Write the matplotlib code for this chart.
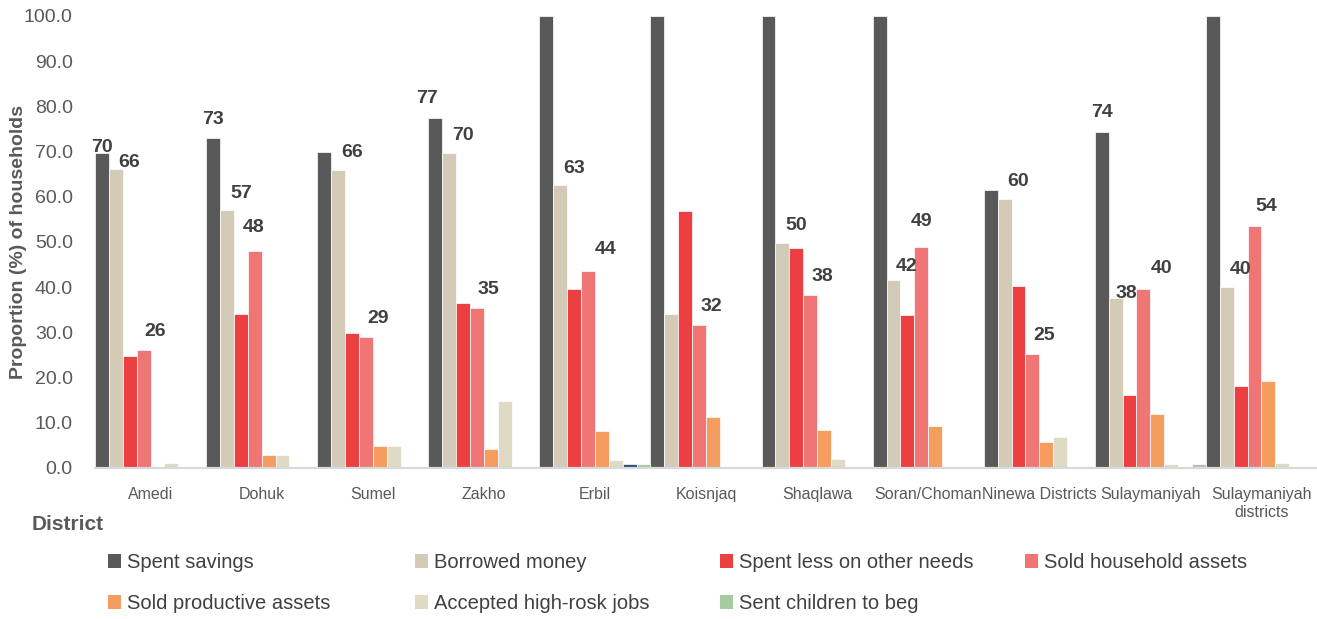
import numpy as np
import matplotlib.pyplot as plt
from matplotlib.patches import Patch

plt.rcParams['font.family'] = ['Liberation Sans', 'DejaVu Sans']

# coping strategies by district (% of households)
districts = ['Amedi', 'Dohuk', 'Sumel', 'Zakho', 'Erbil', 'Koisnjaq', 'Shaqlawa',
             'Soran/Choman', 'Ninewa Districts', 'Sulaymaniyah', 'Sulaymaniyah\ndistricts']

spent_savings   = [69.8, 73.0, 69.9, 77.4, 100, 100, 100, 100, 61.5, 74.4, 100]
borrowed_money  = [66.2, 57.0, 66.0, 69.8, 62.6, 34.0, 49.8, 41.6, 59.6, 37.7, 40.1]
spent_less      = [24.8, 34.0, 29.9, 36.4, 39.5, 56.9, 48.7, 33.8, 40.3, 16.2, 18.1]
sold_household  = [26.1, 48.0, 28.9, 35.3, 43.6, 31.6, 38.2, 48.9, 25.2, 39.7, 53.6]
sold_productive = [0, 2.9, 4.9, 4.1, 8.2, 11.2, 8.3, 9.3, 5.8, 12.0, 19.3]
high_risk_jobs  = [1.2, 2.9, 4.9, 14.8, 1.8, 0, 1.9, 0, 6.9, 0.8, 1.0]
other_strategy  = [0, 0, 0, 0, 0.9, 0, 0, 0, 0, 0, 0]
children_beg    = [0, 0, 0, 0, 0.9, 0, 0, 0, 0, 0.8, 0]

series = [
    ('Spent savings', spent_savings, '#595959'),
    ('Borrowed money', borrowed_money, '#D3CBB8'),
    ('Spent less on other needs', spent_less, '#EB3F42'),
    ('Sold household assets', sold_household, '#F07676'),
    ('Sold productive assets', sold_productive, '#F59C5F'),
    ('Accepted high-rosk jobs', high_risk_jobs, '#DFDAC5'),
    ('_other', other_strategy, '#2B4D76'),
    ('Sent children to beg', children_beg, '#A4CCA0'),
]

# (district index, series index) of bars carrying a value label
labelled = [(0, 0), (0, 1), (0, 3), (1, 0), (1, 1), (1, 3), (2, 1), (2, 3),
            (3, 0), (3, 1), (3, 3), (4, 1), (4, 3), (5, 3), (6, 1), (6, 3),
            (7, 1), (7, 3), (8, 1), (8, 3), (9, 0), (9, 1), (9, 3), (10, 1), (10, 3)]

# label offsets in pixels from the bar top
default_off = {0: (0, 19), 1: (14, 17), 3: (12, 19)}
nudge = {(0, 0): (0, 5), (3, 0): (-8, 20), (0, 1): (13, 6), (9, 1): (11, 4),
         (1, 3): (-1, 24), (7, 3): (0, 25), (7, 1): (13, 13), (4, 3): (18, 21),
         (9, 3): (18, 20)}

fig = plt.figure(figsize=(13.17, 6.19), dpi=100)
ax = fig.add_axes([95 / 1317, 1 - 468 / 619, 1 - 95 / 1317, (468 - 16) / 619])

x = np.arange(len(districts))
n = len(series)
w = 1.0 / n
for i, (name, vals, col) in enumerate(series):
    ax.bar(x - 0.5 + w * (i + 0.5), vals, width=w, color=col,
           edgecolor='white', linewidth=0.5, label=name)

for d, s in labelled:
    v = series[s][1][d]
    xc = d - 0.5 + w * (s + 0.5)
    dx, dy = nudge.get((d, s), default_off[s])
    ax.annotate(f'{v:.0f}', (xc, v), xytext=(dx, dy), textcoords='offset pixels',
                ha='center', va='center', fontsize=14, fontweight='bold',
                color='#404040')

ax.set_xlim(-0.5, len(districts) - 0.5)
ax.set_ylim(0, 100)
ax.set_yticks(np.arange(0, 101, 10))
ax.set_yticklabels([f'{t:.1f}' for t in np.arange(0, 101, 10)])
ax.set_xticks(x)
ax.set_xticklabels(districts)
ax.tick_params(axis='y', length=0, pad=16, labelsize=14, labelcolor='#595959')
ax.tick_params(axis='x', length=0, pad=14, labelsize=11.5, labelcolor='#595959')

for sp in ['top', 'right', 'left']:
    ax.spines[sp].set_visible(False)
ax.spines['bottom'].set_color('#D9D9D9')
ax.spines['bottom'].set_linewidth(1.6)

ax.set_ylabel('Proportion (%) of households', fontsize=14, fontweight='bold',
              color='#595959')
ax.yaxis.set_label_coords(-0.056, 0.5)

fig.text(32 / 1317, 1 - 525 / 619, 'District', fontsize=15, fontweight='bold',
         color='#595959', va='center', ha='left')

# legend laid out as four fixed columns
cols = [[0, 4], [1, 5], [2, 7], [3]]
col_x = [108, 415, 720, 1025]
for idxs, cx in zip(cols, col_x):
    handles = [Patch(facecolor=series[k][2], label=series[k][0]) for k in idxs]
    fig.legend(handles=handles, loc='upper left',
               bbox_to_anchor=(cx / 1317, 1 - 553 / 619), frameon=False,
               fontsize=14.5, labelcolor='#404040', handlelength=0.65,
               handleheight=0.65, handletextpad=0.3, labelspacing=1.1,
               borderpad=0, borderaxespad=0)

fig.savefig('out.png', dpi=100)
